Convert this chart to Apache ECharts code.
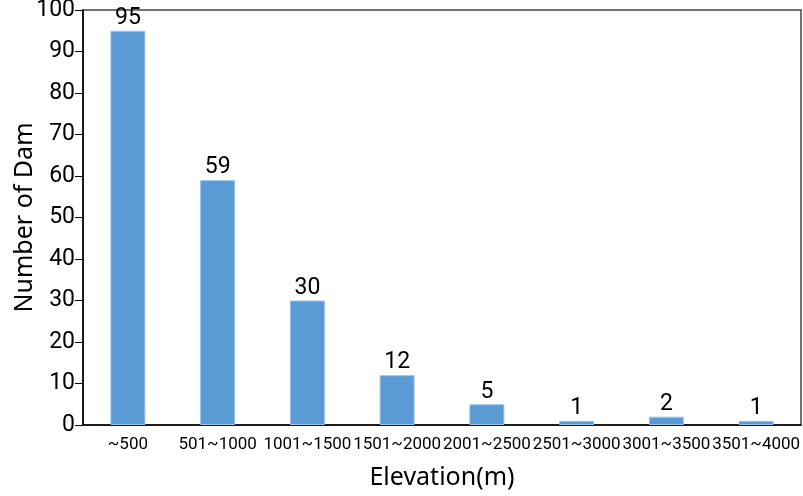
<!DOCTYPE html>
<html><head><meta charset="utf-8">
<script src="https://cdn.jsdelivr.net/npm/echarts@6/dist/echarts.min.js"></script>
<style>html,body{margin:0;padding:0;background:#fff}#c{width:803px;height:496px}</style>
</head><body><div id="c"></div>
<script>
const categories = ['~500','501~1000','1001~1500','1501~2000','2001~2500','2501~3000','3001~3500','3501~4000'];
const damCounts = [95, 59, 30, 12, 5, 1, 2, 1];
const yTicks = {min: 0, max: 100, interval: 10};
const F = '"Noto Sans", sans-serif';
const R = 'Roboto, sans-serif';
const chart = echarts.init(document.getElementById('c'), null, {renderer: 'canvas'});
chart.setOption({
  animation: false,
  backgroundColor: '#fff',
  grid: {left: 83, right: 2, top: 10, bottom: 71, containLabel: false, outerBoundsMode: 'none',
         show: true, borderColor: '#444', borderWidth: 1.5},
  xAxis: {
    type: 'category', data: categories,
    name: 'Elevation(m)', nameLocation: 'middle', nameGap: 40, nameMoveOverlap: false,
    nameTextStyle: {fontFamily: F, fontSize: 25, color: '#000'},
    axisLine: {lineStyle: {color: '#000', width: 1.5}},
    axisTick: {inside: true, length: 5, lineStyle: {color: '#000'}},
    axisLabel: {fontFamily: R, fontSize: 17, color: '#000', margin: 11, interval: 0},
  },
  yAxis: {
    type: 'value', min: yTicks.min, max: yTicks.max, interval: yTicks.interval,
    name: 'Number of Dam', nameLocation: 'middle', nameGap: 46, nameMoveOverlap: false,
    nameTextStyle: {fontFamily: F, fontSize: 25, color: '#000'},
    axisLine: {show: true, lineStyle: {color: '#000', width: 1.5}},
    axisTick: {show: true, length: 8, lineStyle: {color: '#000'}},
    splitLine: {show: false},
    axisLabel: {fontFamily: R, fontSize: 23, color: '#000', margin: 8},
  },
  series: [{
    type: 'bar', data: damCounts, barWidth: 35,
    itemStyle: {color: '#5b9bd5', borderColor: '#9cc3e8', borderWidth: 1},
    label: {show: true, position: 'top', distance: 1, fontFamily: R, fontSize: 23, color: '#000'}
  }]
});
</script></body></html>
